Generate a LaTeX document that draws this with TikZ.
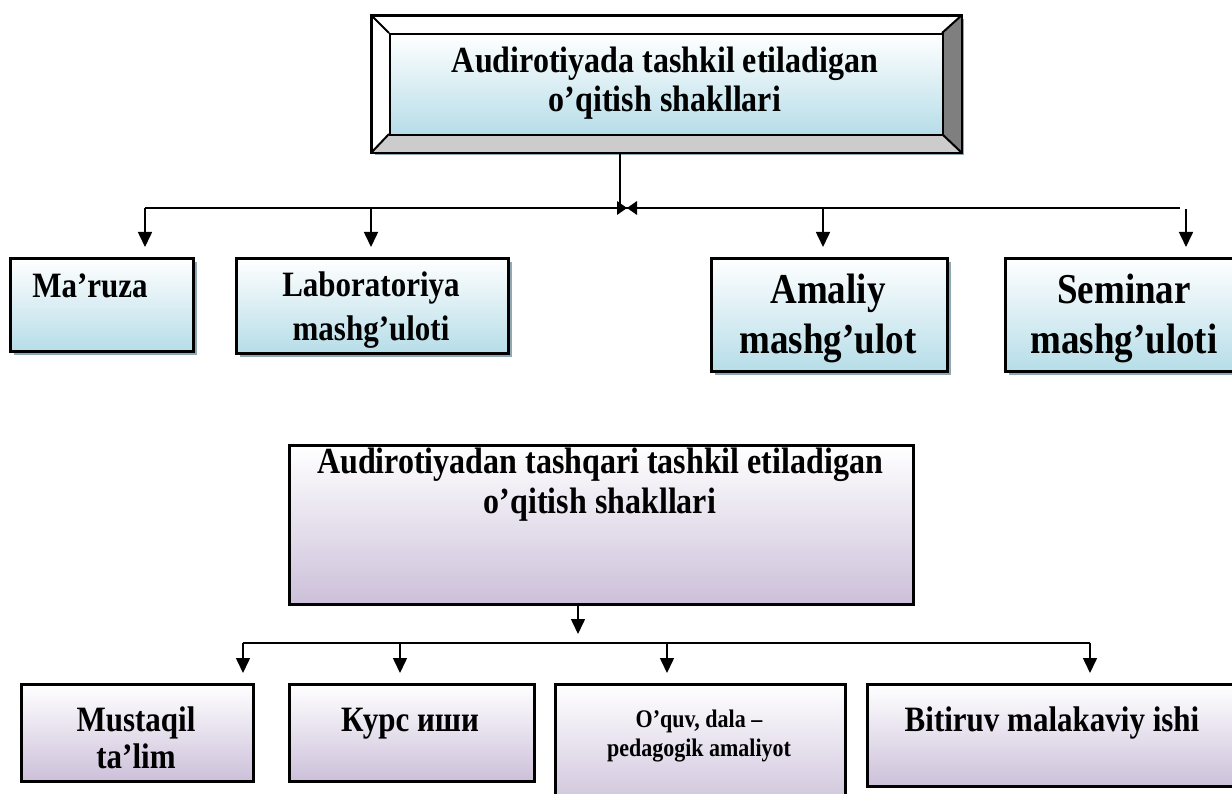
\documentclass[tikz,border=0pt]{standalone}
\usepackage{fontspec}
\usepackage{graphicx}
\setmainfont{Liberation Serif}
\usetikzlibrary{arrows.meta,shadows,calc}
\definecolor{blueb}{HTML}{B6DDE8}
\definecolor{purpb}{HTML}{CCC0DA}
\definecolor{shad}{HTML}{8FA8B6}
\definecolor{bevdark}{HTML}{7F7F7F}
\definecolor{bevlight}{HTML}{CCCCCC}
\newcommand{\txt}[2]{\scalebox{1}[1.15]{\fontsize{#1pt}{#1pt}\selectfont #2}}
\tikzset{
  boxbase/.style={draw=black, line width=2.6pt, inner sep=0pt, anchor=north west},
  bluebox/.style={boxbase, top color=white, bottom color=blueb,
     drop shadow={shadow xshift=4pt, shadow yshift=-4pt, fill=shad, opacity=1}},
  purpbox/.style={boxbase, top color=white, bottom color=purpb},
  conn/.style={line width=1.6pt},
  arr/.style={conn, -{Triangle[length=15pt,width=14pt]}, shorten >=10pt},
  lbl/.style={font=\bfseries, inner sep=0pt, anchor=base},
}
\begin{document}
\begin{tikzpicture}[x={(1pt,0pt)}, y={(0pt,-1pt)}]
\useasboundingbox (0,0) rectangle (1232,794);
\clip (0,0) rectangle (1232,794);

% ---------- top bevel frame ----------
\fill[shad] (375,19) rectangle (964,155);
\node[draw=black, line width=2pt, fill=white, inner sep=0pt, anchor=north west,
      minimum width=589pt, minimum height=136pt] (frame) at (371,15) {};
\coordinate (iNW) at (389,33);
\coordinate (iNE) at (942,33);
\coordinate (iSE) at (942,134);
\coordinate (iSW) at (389,134);
\fill[bevlight] (frame.south west) -- (iSW) -- (iSE) -- (frame.south east) -- cycle;
\fill[bevdark] (frame.north east) -- (iNE) -- (iSE) -- (frame.south east) -- cycle;
\draw[line width=2pt] (frame.north west) -- (iNW) (frame.north east) -- (iNE)
   (frame.south east) -- (iSE) (frame.south west) -- (iSW);
\draw[line width=2pt] (frame.north west) rectangle (frame.south east);
\node[draw=black, line width=2pt, top color=white, bottom color=blueb, inner sep=0pt,
      anchor=north west, minimum width=553pt, minimum height=101pt] (top) at (iNW) {};
\node[lbl] (top1) at (665,73) {\txt{32}{Audirotiyada tashkil etiladigan}};
\node[lbl] (top2) at (665,112) {\txt{32}{o’qitish shakllari}};

% ---------- top row boxes ----------
\node[bluebox, minimum width=183pt, minimum height=93pt] (maruza) at (9,257) {};
\node[lbl] (maruzat) at (90,298) {\txt{31}{Ma’ruza}};

\node[bluebox, minimum width=272pt, minimum height=95pt] (lab) at (235,257) {};
\node[lbl] (lab1) at (371,297) {\txt{31}{Laboratoriya}};
\node[lbl] (lab2) at (371,341) {\txt{31}{mashg’uloti}};

\node[bluebox, minimum width=236pt, minimum height=113pt] (amaliy) at (710,257) {};
\node[lbl] (am1) at (828,304) {\txt{37}{Amaliy}};
\node[lbl] (am2) at (828,353) {\txt{37}{mashg’ulot}};

\node[bluebox, minimum width=240pt, minimum height=113pt] (seminar) at (1004,257) {};
\node[lbl] (se1) at (1124,304) {\txt{37}{Seminar}};
\node[lbl] (se2) at (1124,353) {\txt{37}{mashg’uloti}};

% ---------- top connectors ----------
\coordinate (j0) at (620,208);
\draw[conn] (frame.south -| j0) -- (j0);
\coordinate (h1) at (145,208);
\coordinate (h2) at (371,208);
\coordinate (h3) at (823,208);
\coordinate (h4) at (1180,208);
\coordinate (h5) at (1186,209);
\draw[conn] (h1) -- (h4);
\draw[arr] (h1) -- (h1 |- maruza.north);
\draw[arr] (h2) -- (h2 |- lab.north);
\draw[arr] (h3) -- (h3 |- amaliy.north);
\draw[arr] (h5) -- (h5 |- seminar.north);
\coordinate (bow) at (627,208);
\fill ($(bow)+(-10,-7)$) -- (bow) -- ($(bow)+(-10,7)$) -- cycle;
\fill ($(bow)+(10,-7)$) -- (bow) -- ($(bow)+(10,7)$) -- cycle;

% ---------- bottom main ----------
\node[purpbox, minimum width=624pt, minimum height=159pt] (bmain) at (288,444) {};
\node[lbl] (bm1) at (600,473) {\txt{32}{Audirotiyadan tashqari tashkil etiladigan}};
\node[lbl] (bm2) at (600,513) {\txt{32}{o’qitish shakllari}};

% ---------- bottom row ----------
\node[purpbox, minimum width=232pt, minimum height=97pt] (must) at (20,683) {};
\node[lbl] (mu1) at (136,731) {\txt{31}{Mustaqil}};
\node[lbl] (mu2) at (136,768) {\txt{31}{ta’lim}};

\node[purpbox, minimum width=245pt, minimum height=97pt] (kurs) at (288,683) {};
\node[lbl] (ku1) at (410,731) {\txt{31}{Курс иши}};

\node[purpbox, minimum width=290pt, minimum height=130pt] (oquv) at (554,683) {};
\node[lbl] (oq1) at (699,727) {\txt{22}{O’quv, dala –}};
\node[lbl] (oq2) at (699,756) {\txt{22}{pedagogik amaliyot}};

\node[purpbox, minimum width=376pt, minimum height=102pt] (bit) at (866,683) {};
\node[lbl] (bi1) at (1052,731) {\txt{31}{Bitiruv malakaviy ishi}};

% ---------- bottom connectors ----------
\coordinate (k0) at (578,643);
\draw[arr, shorten >=9pt] (bmain.south -| k0) -- (k0);
\coordinate (k1) at (243,643);
\coordinate (k2) at (400,643);
\coordinate (k3) at (667,643);
\coordinate (k4) at (1090,643);
\draw[conn] (k1) -- (k4);
\draw[arr] (k1) -- (k1 |- must.north);
\draw[arr] (k2) -- (k2 |- kurs.north);
\draw[arr] (k3) -- (k3 |- oquv.north);
\draw[arr] (k4) -- (k4 |- bit.north);
\end{tikzpicture}
\end{document}
